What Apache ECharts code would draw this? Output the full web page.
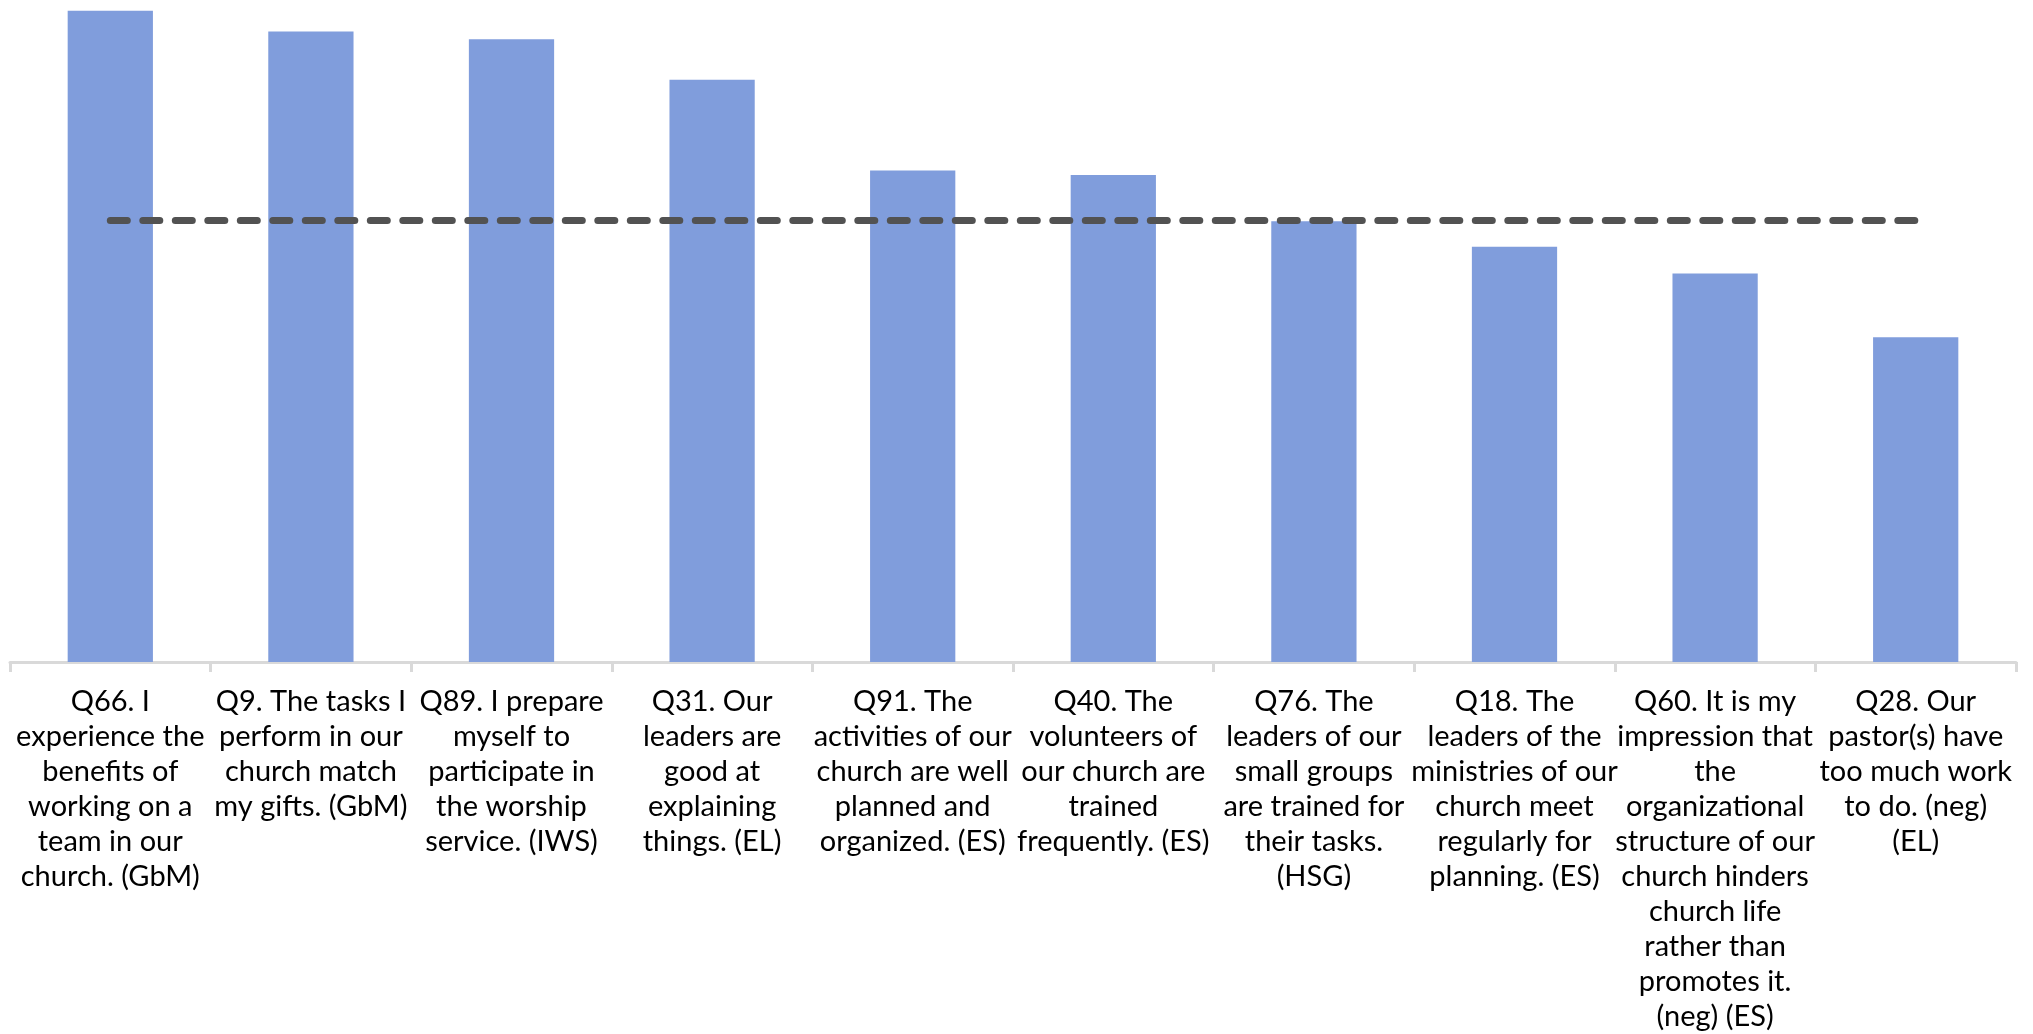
<!DOCTYPE html>
<html>
<head>
<meta charset="utf-8">
<style>html,body{margin:0;padding:0;background:#fff;}#c{width:2033px;height:1034px;}</style>
<script src="https://cdn.jsdelivr.net/npm/echarts@6/dist/echarts.min.js"></script>
</head>
<body>
<div id="c"></div>
<script>
const categories = [
  "Q66. I\nexperience the\nbenefits of\nworking on a\nteam in our\nchurch. (GbM)",
  "Q9. The tasks I\nperform in our\nchurch match\nmy gifts. (GbM)",
  "Q89. I prepare\nmyself to\nparticipate in\nthe worship\nservice. (IWS)",
  "Q31. Our\nleaders are\ngood at\nexplaining\nthings. (EL)",
  "Q91. The\nactivities of our\nchurch are well\nplanned and\norganized. (ES)",
  "Q40. The\nvolunteers of\nour church are\ntrained\nfrequently. (ES)",
  "Q76. The\nleaders of our\nsmall groups\nare trained for\ntheir tasks.\n(HSG)",
  "Q18. The\nleaders of the\nministries of our\nchurch meet\nregularly for\nplanning. (ES)",
  "Q60. It is my\nimpression that\nthe\norganizational\nstructure of our\nchurch hinders\nchurch life\nrather than\npromotes it.\n(neg) (ES)",
  "Q28. Our\npastor(s) have\ntoo much work\nto do. (neg)\n(EL)"
];
const scores = [99.9, 96.7, 95.5, 89.3, 75.4, 74.7, 67.6, 63.7, 59.6, 49.8];
const averages = [67.7, 67.7, 67.7, 67.7, 67.7, 67.7, 67.7, 67.7, 67.7, 67.7];

const chart = echarts.init(document.getElementById('c'), null, {renderer: 'canvas'});
chart.setOption({
  animation: false,
  backgroundColor: '#ffffff',
  grid: {left: 10, right: 17, top: 10, bottom: 370, containLabel: false},
  xAxis: {
    type: 'category',
    data: categories,
    boundaryGap: true,
    axisLine: {show: true, lineStyle: {color: '#d9d9d9', width: 3}},
    axisTick: {show: true, length: 10, lineStyle: {color: '#d9d9d9', width: 3}},
    axisLabel: {
      interval: 0,
      margin: 22,
      color: '#000000',
      fontFamily: 'Lato',
      fontSize: 29,
      lineHeight: 35,
      align: 'center'
    }
  },
  yAxis: {
    type: 'value',
    min: 0,
    max: 100,
    show: false,
    splitLine: {show: false}
  },
  series: [
    {
      type: 'bar',
      data: scores,
      barWidth: '42.5%',
      itemStyle: {color: '#809ddc'},
      z: 2
    },
    {
      type: 'line',
      data: averages,
      symbol: 'none',
      lineStyle: {color: '#525252', width: 7, type: [17, 15.5], cap: 'round'},
      z: 3
    }
  ]
});
</script>
</body>
</html>
